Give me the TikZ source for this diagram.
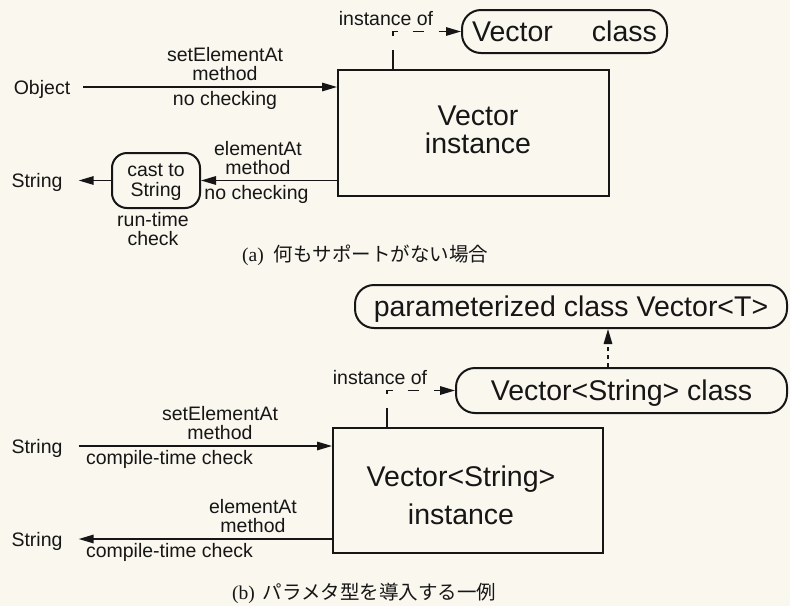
\documentclass[tikz,border=0pt]{standalone}
\usepackage{fontspec}
\setmainfont{Liberation Sans}
\newfontfamily\serifcap{Liberation Serif}
\newfontfamily\cjk{Noto Sans CJK JP}
\usetikzlibrary{arrows.meta,calc}
\definecolor{paper}{RGB}{249,247,238}
\definecolor{ink}{RGB}{22,22,22}
\begin{document}
\begin{tikzpicture}[x=1pt,y=-1pt,
  every node/.style={text=ink, inner sep=0pt},
  big/.style={font=\fontsize{28.5}{30}\selectfont, text depth=0pt},
  lbl/.style={font=\fontsize{19.5}{19}\selectfont, align=center, text depth=0pt},
  boxed/.style={draw=ink, line width=2pt, fill=paper},
  pill/.style={boxed, rounded corners=19pt},
  arr/.style={draw=ink, line width=1.5pt, -{Triangle[length=15pt,width=8.5pt]}},
  inst/.style={arr, dash pattern=on 19pt off 14pt on 9pt off 15pt on 11pt off 15pt on 60pt off 1pt},
  caption/.style={anchor=west, font=\fontsize{19.5}{20}\selectfont}]
\fill[paper] (0,0) rectangle (790,606);
\useasboundingbox (0,0) rectangle (790,606);

% ---------- (a) no support ----------
\node[pill, big, minimum width=205pt, minimum height=43pt] (vclass) at (564.5,31.5) {Vector\hspace{39pt}class};
\node[boxed, minimum width=271pt, minimum height=126pt] (vinst) at (473.5,133) {};
\node[big, align=center, font=\fontsize{28.5}{28}\selectfont] (vinsttext) at (478,130) {Vector\\instance};

\node[lbl] (instA) at (386,18) {instance of};
\coordinate (ia) at ($(vinst.north west)+(56,0)$);
\draw[inst] (ia) |- (vclass.west);

\node[lbl] (objA) at (42,87) {Object};
\draw[arr] ([xshift=13pt]objA.east) -- (objA -| vinst.west);
\node[lbl] (setA) at (225,63.5) {setElementAt\\method};
\node[lbl] (nocA) at (225,98) {no checking};

\node[boxed, lbl, rounded corners=15pt, minimum width=88pt, minimum height=55pt, font=\fontsize{19.5}{20}\selectfont] (cast) at (156,180.5) {cast to\\String};
\draw[arr] (vinst.west |- cast.east) -- (cast.east);
\node[lbl] (elemA) at (258,157.5) {elementAt\\method};
\node[lbl] (nocA2) at (256.5,192) {no checking};
\node[lbl] (strA) at (37,180.5) {String};
\draw[arr] (cast.west) -- ([xshift=16pt]strA.east);
\node[lbl] (rtA) at (153,229) {run-time\\check};

\node[caption] (capA) at (242,255) {{\serifcap (a)}\hspace{10pt}{\cjk 何もサポートがない場合}};

% ---------- (b) parameterized type ----------
\node[pill, big, minimum width=432pt, minimum height=43pt] (param) at (571,306.5) {parameterized class Vector<T>};
\node[pill, big, minimum width=331pt, minimum height=45pt] (vsclass) at (621.5,390.5) {Vector<String> class};
\draw[arr, dash pattern=on 4pt off 4pt] ([xshift=-13.5pt]vsclass.north) -- ([xshift=-13.5pt]vsclass.north |- param.south);

\node[boxed, minimum width=270pt, minimum height=125pt] (vsinst) at (468,490.5) {};
\node[big, align=center, font=\fontsize{28.5}{38}\selectfont] (vsinsttext) at (461,495) {Vector<String>\\instance};

\node[lbl] (instB) at (380,377) {instance of};
\coordinate (ib) at ($(vsinst.north west)+(55,0)$);
\draw[inst] (ib) |- (vsclass.west);

\node[lbl] (strB1) at (37,446) {String};
\draw[arr] ([xshift=16pt]strB1.east) -- (strB1 -| vsinst.west);
\node[lbl] (setB) at (220,422.5) {setElementAt\\method};
\node[lbl] (ctcB1) at (169.5,457) {compile-time check};

\node[lbl] (strB2) at (37,539) {String};
\draw[arr] (strB2 -| vsinst.west) -- ([xshift=16pt]strB2.east);
\node[lbl] (elemB) at (253,516) {elementAt\\method};
\node[lbl] (ctcB2) at (169.5,550) {compile-time check};

\node[caption] (capB) at (232,593) {{\serifcap (b)}\hspace{8pt}{\cjk パラメタ型を導入する一例}};
\end{tikzpicture}
\end{document}
